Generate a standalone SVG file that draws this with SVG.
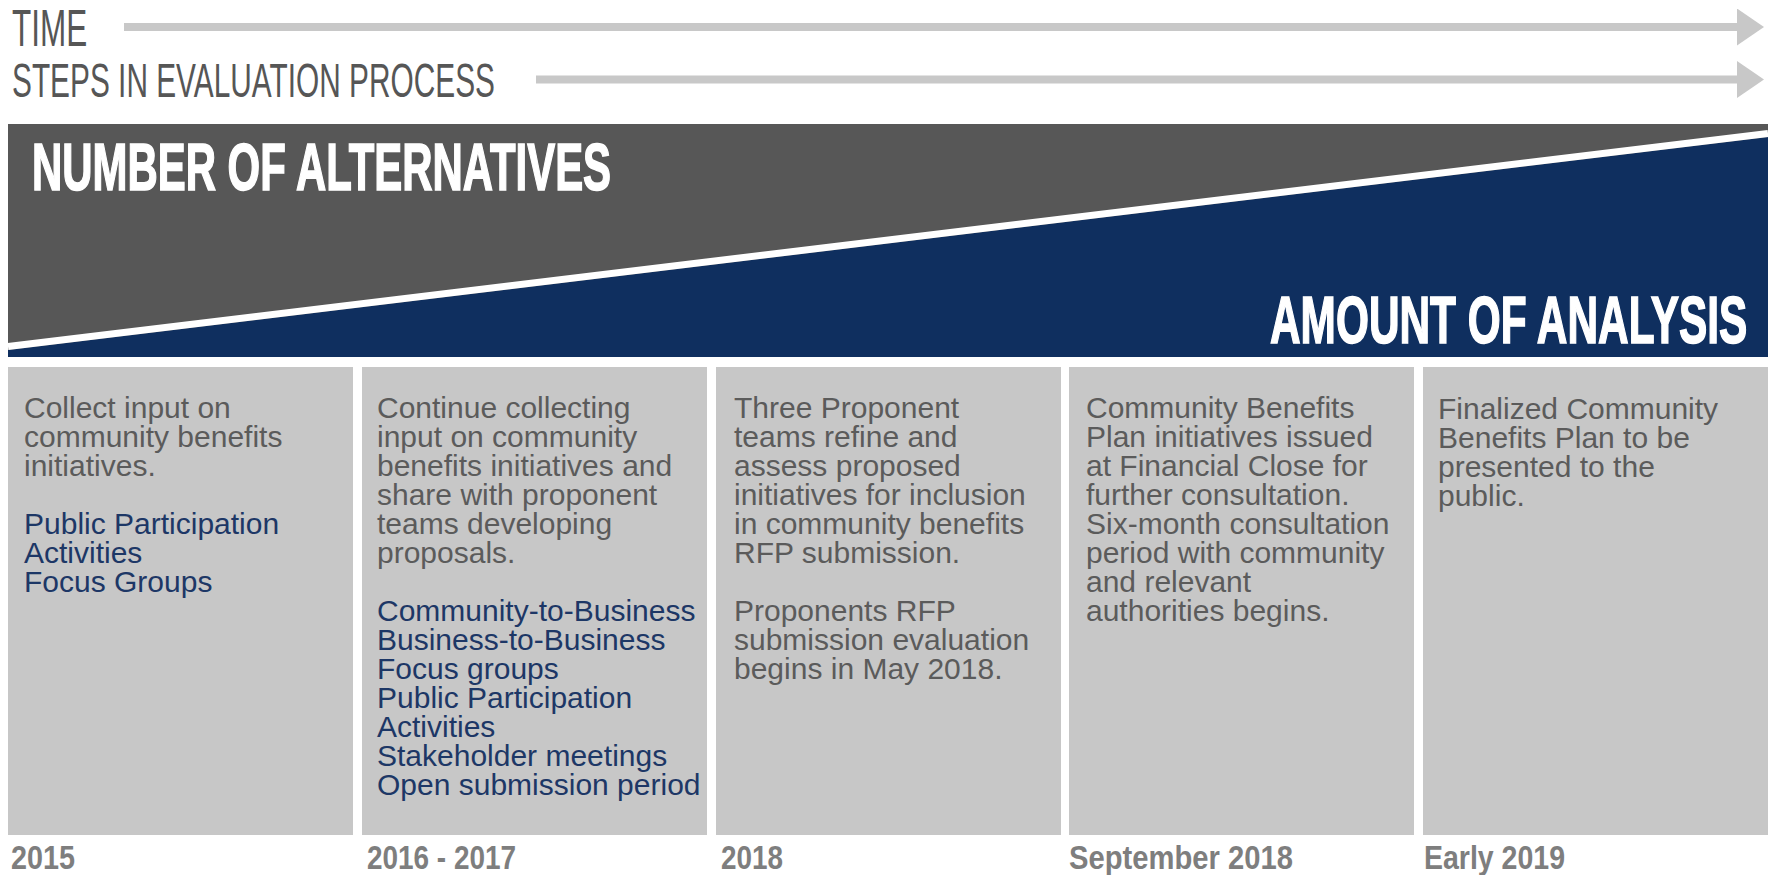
<svg xmlns="http://www.w3.org/2000/svg" width="1769" height="875" viewBox="0 0 1769 875">
  <defs>
    <marker id="head" markerUnits="userSpaceOnUse" markerWidth="28" markerHeight="38" refX="0" refY="18.5" orient="auto">
      <path d="M0,0 L27,18.5 L0,37 Z" fill="#c8c8c8"/>
    </marker>
    <style>
      .axis { font-family: "Liberation Sans", Arial, sans-serif; fill: #565656; }
      .axisline { stroke: #c8c8c8; stroke-width: 8; fill: none; }
      .head { font-family: "Liberation Sans", Arial, sans-serif; font-weight: bold; fill: #ffffff; font-size: 66px; stroke: #ffffff; stroke-width: 1.6; }
      .col { fill: #c7c7c7; }
      .body { font-family: "Liberation Sans", Arial, sans-serif; font-size: 30px; fill: #5b5b5b; }
      .blue { fill: #1d3766; }
      .year { font-family: "Liberation Sans", Arial, sans-serif; font-weight: bold; font-size: 34px; fill: #7e7e7e; }
    </style>
  </defs>

  <rect width="1769" height="875" fill="#ffffff"/>

  <!-- axis titles (condensed by horizontal scaling) -->
  <text class="axis" transform="translate(12,46) scale(0.616,1)" x="0" y="0" font-size="51" textLength="122" lengthAdjust="spacingAndGlyphs">TIME</text>
  <text class="axis" transform="translate(12,97) scale(0.616,1)" x="0" y="0" font-size="48" textLength="784" lengthAdjust="spacingAndGlyphs">STEPS IN EVALUATION PROCESS</text>

  <!-- axis arrows -->
  <g id="connectors">
    <line class="axisline" x1="124" y1="27" x2="1737" y2="27" marker-end="url(#head)"/>
    <line class="axisline" x1="536" y1="79.5" x2="1737" y2="79.5" marker-end="url(#head)"/>
  </g>

  <!-- alternatives vs analysis band -->
  <g id="band">
    <rect x="8" y="124" width="1760" height="233" fill="#575757"/>
    <polygon points="8,350 1768,137 1768,357 8,357" fill="#0f2f5f"/>
    <line x1="8" y1="346.5" x2="1768" y2="133.5" stroke="#ffffff" stroke-width="7"/>
    <text class="head" transform="translate(32,190) scale(0.622,1)" x="0" y="0" textLength="931" lengthAdjust="spacingAndGlyphs">NUMBER OF ALTERNATIVES</text>
    <text class="head" transform="translate(1270,343) scale(0.6346,1)" x="0" y="0" textLength="752" lengthAdjust="spacingAndGlyphs">AMOUNT OF ANALYSIS</text>
  </g>

  <!-- stage 1 -->
  <g id="stage-2015">
    <rect class="col" x="8" y="367" width="345" height="468"/>
    <text class="body">
      <tspan x="24" y="418">Collect input on</tspan>
      <tspan x="24" y="447">community benefits</tspan>
      <tspan x="24" y="476">initiatives.</tspan>
      <tspan class="blue" x="24" y="534">Public Participation</tspan>
      <tspan class="blue" x="24" y="563">Activities</tspan>
      <tspan class="blue" x="24" y="592">Focus Groups</tspan>
    </text>
    <text class="year" x="11" y="869" textLength="64" lengthAdjust="spacingAndGlyphs">2015</text>
  </g>

  <!-- stage 2 -->
  <g id="stage-2016-2017">
    <rect class="col" x="362" y="367" width="345" height="468"/>
    <text class="body">
      <tspan x="377" y="418">Continue collecting</tspan>
      <tspan x="377" y="447">input on community</tspan>
      <tspan x="377" y="476">benefits initiatives and</tspan>
      <tspan x="377" y="505">share with proponent</tspan>
      <tspan x="377" y="534">teams developing</tspan>
      <tspan x="377" y="563">proposals.</tspan>
      <tspan class="blue" x="377" y="621">Community-to-Business</tspan>
      <tspan class="blue" x="377" y="650">Business-to-Business</tspan>
      <tspan class="blue" x="377" y="679">Focus groups</tspan>
      <tspan class="blue" x="377" y="708">Public Participation</tspan>
      <tspan class="blue" x="377" y="737">Activities</tspan>
      <tspan class="blue" x="377" y="766">Stakeholder meetings</tspan>
      <tspan class="blue" x="377" y="795">Open submission period</tspan>
    </text>
    <text class="year" x="367" y="869" textLength="149" lengthAdjust="spacingAndGlyphs">2016 - 2017</text>
  </g>

  <!-- stage 3 -->
  <g id="stage-2018">
    <rect class="col" x="716" y="367" width="345" height="468"/>
    <text class="body">
      <tspan x="734" y="418">Three Proponent</tspan>
      <tspan x="734" y="447">teams refine and</tspan>
      <tspan x="734" y="476">assess proposed</tspan>
      <tspan x="734" y="505">initiatives for inclusion</tspan>
      <tspan x="734" y="534">in community benefits</tspan>
      <tspan x="734" y="563">RFP submission.</tspan>
      <tspan x="734" y="621">Proponents RFP</tspan>
      <tspan x="734" y="650">submission evaluation</tspan>
      <tspan x="734" y="679">begins in May 2018.</tspan>
    </text>
    <text class="year" x="721" y="869" textLength="62" lengthAdjust="spacingAndGlyphs">2018</text>
  </g>

  <!-- stage 4 -->
  <g id="stage-sep-2018">
    <rect class="col" x="1069" y="367" width="345" height="468"/>
    <text class="body">
      <tspan x="1086" y="418">Community Benefits</tspan>
      <tspan x="1086" y="447">Plan initiatives issued</tspan>
      <tspan x="1086" y="476">at Financial Close for</tspan>
      <tspan x="1086" y="505">further consultation.</tspan>
      <tspan x="1086" y="534">Six-month consultation</tspan>
      <tspan x="1086" y="563">period with community</tspan>
      <tspan x="1086" y="592">and relevant</tspan>
      <tspan x="1086" y="621">authorities begins.</tspan>
    </text>
    <text class="year" x="1069" y="869" textLength="224" lengthAdjust="spacingAndGlyphs">September 2018</text>
  </g>

  <!-- stage 5 -->
  <g id="stage-2019">
    <rect class="col" x="1423" y="367" width="345" height="468"/>
    <text class="body">
      <tspan x="1438" y="419">Finalized Community</tspan>
      <tspan x="1438" y="448">Benefits Plan to be</tspan>
      <tspan x="1438" y="477">presented to the</tspan>
      <tspan x="1438" y="506">public.</tspan>
    </text>
    <text class="year" x="1424" y="869" textLength="141" lengthAdjust="spacingAndGlyphs">Early 2019</text>
  </g>
</svg>
